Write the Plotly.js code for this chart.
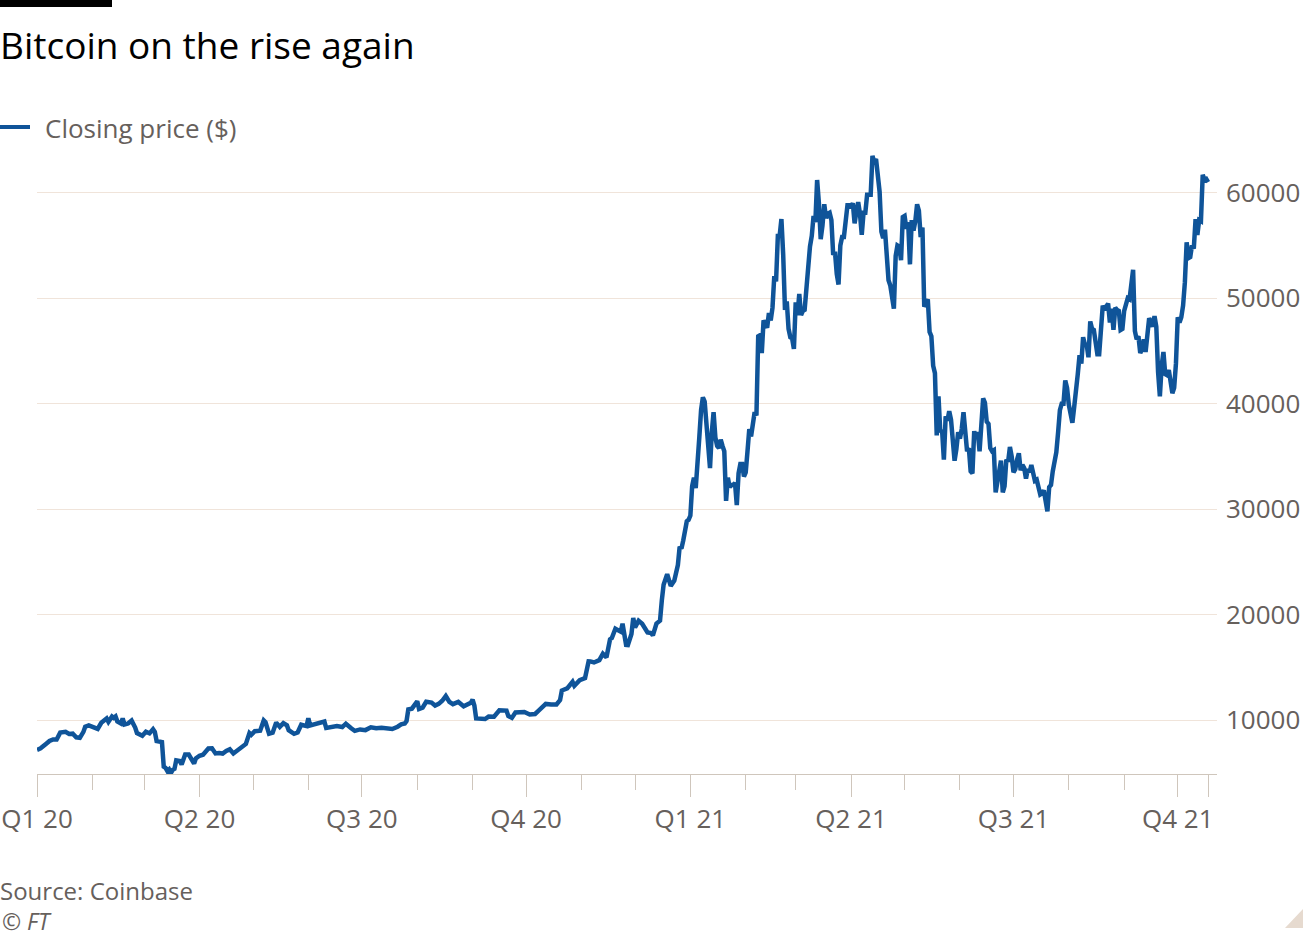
<!DOCTYPE html>
<html><head><meta charset="utf-8">
<script src="https://cdn.plot.ly/plotly-3.0.1.min.js"></script>
<style>html,body{margin:0;padding:0;background:#fff;} #chart{width:1312px;height:937px;}</style>
</head><body><div id="chart"></div>
<script>
const dates2020 = ['2020-01-01','2020-01-03','2020-01-06','2020-01-08','2020-01-10','2020-01-12','2020-01-14','2020-01-17','2020-01-19','2020-01-21','2020-01-23','2020-01-25','2020-01-27','2020-01-28','2020-01-30',
'2020-02-01','2020-02-03','2020-02-04','2020-02-06','2020-02-09','2020-02-10','2020-02-12','2020-02-13','2020-02-14','2020-02-15','2020-02-17','2020-02-18','2020-02-19','2020-02-21','2020-02-23','2020-02-25','2020-02-26','2020-02-29',
'2020-03-02','2020-03-04','2020-03-06','2020-03-07','2020-03-08','2020-03-11','2020-03-12','2020-03-13','2020-03-14','2020-03-15','2020-03-16','2020-03-17','2020-03-18','2020-03-19','2020-03-21','2020-03-22','2020-03-24','2020-03-26','2020-03-28','2020-03-29','2020-03-30',
'2020-04-01','2020-04-03','2020-04-06','2020-04-08','2020-04-10','2020-04-12','2020-04-14','2020-04-16','2020-04-18','2020-04-20','2020-04-22','2020-04-24','2020-04-27','2020-04-29','2020-04-30',
'2020-05-02','2020-05-05','2020-05-07','2020-05-08','2020-05-10','2020-05-12','2020-05-14','2020-05-16','2020-05-18','2020-05-20','2020-05-21','2020-05-24','2020-05-26','2020-05-28','2020-05-31',
'2020-06-01','2020-06-02','2020-06-05','2020-06-08','2020-06-10','2020-06-11','2020-06-14','2020-06-17','2020-06-20','2020-06-22','2020-06-25','2020-06-27','2020-06-30',
'2020-07-03','2020-07-06','2020-07-09','2020-07-12','2020-07-15','2020-07-18','2020-07-21','2020-07-23','2020-07-25','2020-07-26','2020-07-27','2020-07-29',
'2020-08-01','2020-08-02','2020-08-04','2020-08-06','2020-08-09','2020-08-11','2020-08-13','2020-08-15','2020-08-17','2020-08-19','2020-08-21','2020-08-24','2020-08-27','2020-08-29','2020-08-31',
'2020-09-01','2020-09-02','2020-09-03','2020-09-05','2020-09-08','2020-09-10','2020-09-13','2020-09-16','2020-09-18','2020-09-20','2020-09-21','2020-09-23','2020-09-25','2020-09-27','2020-09-30',
'2020-10-03','2020-10-06','2020-10-08','2020-10-10','2020-10-12','2020-10-15','2020-10-18','2020-10-20','2020-10-21','2020-10-24','2020-10-27','2020-10-28','2020-10-31',
'2020-11-03','2020-11-05','2020-11-06','2020-11-08','2020-11-11','2020-11-13','2020-11-15','2020-11-17','2020-11-18','2020-11-20','2020-11-23','2020-11-24','2020-11-26','2020-11-27','2020-11-29','2020-11-30',
'2020-12-01','2020-12-03','2020-12-05','2020-12-08','2020-12-10','2020-12-11','2020-12-13','2020-12-15','2020-12-16','2020-12-17','2020-12-19','2020-12-21','2020-12-23','2020-12-25','2020-12-26','2020-12-27','2020-12-28','2020-12-30','2020-12-31'];
const close2020 = [7200,7345,7760,8045,8190,8180,8830,8910,8700,8730,8390,8340,8900,9390,9510,
9380,9290,9180,9760,10170,9850,10360,10230,10360,9900,9700,10180,9600,9690,9970,9310,8790,8530,
8910,8760,9150,8900,8040,7940,5600,5500,5200,5350,5000,5300,5400,6200,6150,5800,6750,6750,6200,5900,6400,
6640,6740,7330,7350,6860,6900,6850,7100,7250,6860,7120,7500,7760,8790,8620,
8970,9020,9980,9810,8730,8820,9780,9380,9730,9520,9060,8720,8840,9580,9450,
10200,9520,9620,9770,9880,9270,9330,9450,9360,9680,9240,9000,9135,
9070,9340,9240,9290,9190,9170,9390,9610,9700,9930,11030,11100,
11800,11070,11200,11760,11680,11400,11560,11850,12300,11750,11530,11740,11330,11530,11660,
11950,11400,10180,10130,10120,10350,10340,10940,10930,10920,10420,10230,10740,10780,10780,
10550,10600,10910,11300,11550,11500,11500,11920,12820,13030,13650,13270,13800,
14000,15590,15580,15480,15700,16310,15970,17680,17800,18680,18400,19150,17150,17130,18180,19700,
18790,19440,19150,18320,18260,18040,19170,19440,21360,22840,23850,22740,23240,24710,26440,26270,27040,28860,29000];

const dates2021 = [
'2021-01-01','2021-01-02','2021-01-03','2021-01-04','2021-01-05','2021-01-06','2021-01-07','2021-01-08','2021-01-09','2021-01-10','2021-01-11','2021-01-12','2021-01-13','2021-01-14','2021-01-15','2021-01-16','2021-01-17','2021-01-18','2021-01-19','2021-01-20','2021-01-21','2021-01-22','2021-01-23','2021-01-24','2021-01-25','2021-01-26','2021-01-27','2021-01-28','2021-01-29','2021-01-30','2021-01-31',
'2021-02-01','2021-02-02','2021-02-03','2021-02-04','2021-02-05','2021-02-06','2021-02-07','2021-02-08','2021-02-09','2021-02-10','2021-02-11','2021-02-12','2021-02-13','2021-02-14','2021-02-15','2021-02-16','2021-02-17','2021-02-18','2021-02-19','2021-02-20','2021-02-21','2021-02-22','2021-02-23','2021-02-24','2021-02-25','2021-02-26','2021-02-27','2021-02-28',
'2021-03-01','2021-03-02','2021-03-03','2021-03-04','2021-03-05','2021-03-06','2021-03-07','2021-03-08','2021-03-09','2021-03-10','2021-03-11','2021-03-12','2021-03-13','2021-03-14','2021-03-15','2021-03-16','2021-03-17','2021-03-18','2021-03-19','2021-03-20','2021-03-21','2021-03-22','2021-03-23','2021-03-24','2021-03-25','2021-03-26','2021-03-27','2021-03-28','2021-03-29','2021-03-30','2021-03-31',
'2021-04-01','2021-04-02','2021-04-03','2021-04-04','2021-04-05','2021-04-06','2021-04-07','2021-04-08','2021-04-09','2021-04-10','2021-04-11','2021-04-12','2021-04-13','2021-04-14','2021-04-15','2021-04-16','2021-04-17','2021-04-18','2021-04-19','2021-04-20','2021-04-21','2021-04-22','2021-04-23','2021-04-24','2021-04-25','2021-04-26','2021-04-27','2021-04-28','2021-04-29','2021-04-30',
'2021-05-01','2021-05-02','2021-05-03','2021-05-04','2021-05-05','2021-05-06','2021-05-07','2021-05-08','2021-05-09','2021-05-10','2021-05-11','2021-05-12','2021-05-13','2021-05-14','2021-05-15','2021-05-16','2021-05-17','2021-05-18','2021-05-19','2021-05-20','2021-05-21','2021-05-22','2021-05-23','2021-05-24','2021-05-25','2021-05-26','2021-05-27','2021-05-28','2021-05-29','2021-05-30','2021-05-31',
'2021-06-01','2021-06-02','2021-06-03','2021-06-04','2021-06-05','2021-06-06','2021-06-07','2021-06-08','2021-06-09','2021-06-10','2021-06-11','2021-06-12','2021-06-13','2021-06-14','2021-06-15','2021-06-16','2021-06-17','2021-06-18','2021-06-19','2021-06-20','2021-06-21','2021-06-22','2021-06-23','2021-06-24','2021-06-25','2021-06-26','2021-06-27','2021-06-28','2021-06-29','2021-06-30',
'2021-07-01','2021-07-02','2021-07-03','2021-07-04','2021-07-05','2021-07-06','2021-07-07','2021-07-08','2021-07-09','2021-07-10','2021-07-11','2021-07-12','2021-07-13','2021-07-14','2021-07-15','2021-07-16','2021-07-17','2021-07-18','2021-07-19','2021-07-20','2021-07-21','2021-07-22','2021-07-23','2021-07-24','2021-07-25','2021-07-26','2021-07-27','2021-07-28','2021-07-29','2021-07-30','2021-07-31',
'2021-08-01','2021-08-02','2021-08-03','2021-08-04','2021-08-05','2021-08-06','2021-08-07','2021-08-08','2021-08-09','2021-08-10','2021-08-11','2021-08-12','2021-08-13','2021-08-14','2021-08-15','2021-08-16','2021-08-17','2021-08-18','2021-08-19','2021-08-20','2021-08-21','2021-08-22','2021-08-23','2021-08-24','2021-08-25','2021-08-26','2021-08-27','2021-08-28','2021-08-29','2021-08-30','2021-08-31',
'2021-09-01','2021-09-02','2021-09-03','2021-09-04','2021-09-05','2021-09-06','2021-09-07','2021-09-08','2021-09-09','2021-09-10','2021-09-11','2021-09-12','2021-09-13','2021-09-14','2021-09-15','2021-09-16','2021-09-17','2021-09-18','2021-09-19','2021-09-20','2021-09-21','2021-09-22','2021-09-23','2021-09-24','2021-09-25','2021-09-26','2021-09-27','2021-09-28','2021-09-29','2021-09-30',
'2021-10-01','2021-10-02','2021-10-03','2021-10-04','2021-10-05','2021-10-06','2021-10-07','2021-10-08','2021-10-09','2021-10-10','2021-10-11','2021-10-12','2021-10-13','2021-10-14','2021-10-15','2021-10-16','2021-10-17','2021-10-18'];
const close2021 = [
29400,32200,33000,32000,34000,36800,39400,40600,40200,38200,35500,33900,37300,39200,36800,36000,35800,36600,36000,35500,30800,33000,32100,32300,32300,32500,30400,33400,34300,34300,33100,
33500,35500,37600,36900,38300,39200,38900,46400,46500,44800,47900,47400,47200,48600,47900,49100,52100,51600,55900,55900,57500,54100,48900,49700,47100,46300,46200,45200,
49600,48400,50400,48400,48800,48900,51000,52400,54900,55900,57800,57200,61200,59000,55600,56900,58900,57600,58000,58100,57400,54100,54400,52300,51300,55000,55800,55800,57600,58800,58800,
58700,59000,57100,58200,59100,58000,56000,58100,58100,59800,59800,59800,63500,62900,63200,61400,60100,56300,55700,56500,53800,51700,51200,50100,49000,54000,55000,54900,53600,57700,
57800,56600,57200,53200,57400,56400,57300,58900,58300,55800,56700,49200,49700,49900,46800,46400,43600,42900,37000,40700,37300,37500,34700,38800,38400,39300,38500,35700,34600,35700,37300,
36700,37600,39200,36900,35500,35800,33600,33400,37400,36700,37300,35500,39000,40500,40100,38300,38100,35800,35500,35600,31600,32500,33700,34600,31600,32200,34700,34500,35900,35000,
33500,33800,34700,35300,33700,34200,33900,32900,33800,33500,34200,33100,32700,32800,31800,31400,31500,31800,30800,29800,32100,32300,33600,34300,35400,37300,39400,40000,40000,42200,41500,
39900,39200,38200,39700,40900,42800,44600,43800,46300,45600,45600,44400,47800,47100,47000,45900,44700,44700,46800,49300,48900,49300,49500,47700,49000,47000,49100,48900,48800,47000,47100,
48800,49300,50000,49900,51800,52700,46900,46100,46400,44800,45200,46100,44900,47100,48100,47800,47300,48300,47300,43000,40700,43600,44900,42800,42700,43200,42200,41000,41500,43800,
48200,47700,48200,49300,51500,55300,53800,53900,55000,54700,57500,56000,57400,57300,61700,61200,61300,61000];

const quarterTicks = ['2020-01-01','2020-04-01','2020-07-01','2020-10-01','2021-01-01','2021-04-01','2021-07-01','2021-10-01','2021-10-18'];
const quarterLabels = ['Q1 20','Q2 20','Q3 20','Q4 20','Q1 21','Q2 21','Q3 21','Q4 21',''];
const yTicks = [10000,20000,30000,40000,50000,60000];
const seriesName = 'Closing price ($)';
const chartTitle = 'Bitcoin on the rise again';
const sourceText = 'Source: Coinbase';
const creditText = '<i>© FT</i>';

const W = 1312, H = 937, L = 37, R = 1217, T = 150, B = 774;
const px = x => (x - L) / (R - L);
const py = y => (B - y) / (B - T);
const FONT = '"Open Sans", sans-serif';
const GREY = '#66605c';
const AXIS = '#cfc6bc';
const BLUE = '#0f5499';

const trace = {
  type: 'scatter', mode: 'lines',
  x: dates2020.concat(dates2021),
  y: close2020.concat(close2021),
  name: seriesName,
  line: {color: BLUE, width: 4.5, shape: 'linear'},
  hoverinfo: 'skip', showlegend: false
};

const layout = {
  width: W, height: H,
  margin: {l: L, r: W - R, t: T, b: H - B, pad: 0},
  paper_bgcolor: '#ffffff', plot_bgcolor: '#ffffff',
  font: {family: FONT, color: GREY},
  title: {
    text: chartTitle, xref: 'container', yref: 'container',
    x: 0, xanchor: 'left', y: 1 - 46 / H, yanchor: 'middle',
    font: {family: FONT, size: 37, color: '#000000'}
  },
  showlegend: false,
  xaxis: {
    type: 'date', range: ['2020-01-01', '2021-10-23'], fixedrange: true,
    tickmode: 'array', tickvals: quarterTicks, ticktext: quarterLabels,
    ticks: 'outside', ticklen: 22, tickwidth: 1, tickcolor: AXIS,
    showline: true, linecolor: AXIS, linewidth: 1,
    showgrid: false, zeroline: false,
    tickfont: {family: FONT, size: 26, color: GREY},
    minor: {dtick: 'M1', tick0: '2020-01-01', ticks: 'outside', ticklen: 15, tickwidth: 1, tickcolor: AXIS, showgrid: false}
  },
  yaxis: {
    side: 'right', range: [4911, 64047], fixedrange: true,
    tickmode: 'array', tickvals: yTicks, tickformat: 'd',
    ticks: '', showline: false, zeroline: false,
    showgrid: true, gridcolor: '#f0e4da', gridwidth: 1,
    tickfont: {family: FONT, size: 26, color: GREY},
    ticklabelstandoff: 8
  },
  shapes: [
    {type: 'rect', xref: 'paper', yref: 'paper', x0: px(0), x1: px(112), y0: py(7), y1: py(0), fillcolor: '#000000', line: {width: 0}},
    {type: 'line', xref: 'paper', yref: 'paper', x0: px(0), x1: px(30), y0: py(127), y1: py(127), line: {color: BLUE, width: 4}},
    {type: 'path', xref: 'paper', yref: 'paper',
     path: `M ${px(1285)} ${py(928)} L ${px(1303)} ${py(928)} L ${px(1303)} ${py(909)} Z`,
     fillcolor: '#e6dacf', line: {width: 0}}
  ],
  annotations: [
    {xref: 'paper', yref: 'paper', x: px(45), y: py(128), xanchor: 'left', yanchor: 'middle', showarrow: false,
     text: seriesName, borderpad: 0, borderwidth: 0, font: {family: FONT, size: 26, color: GREY}},
    {xref: 'paper', yref: 'paper', x: px(0), y: py(890), xanchor: 'left', yanchor: 'middle', showarrow: false,
     text: sourceText, borderpad: 0, borderwidth: 0, font: {family: FONT, size: 24, color: GREY}},
    {xref: 'paper', yref: 'paper', x: px(2), y: py(921), xanchor: 'left', yanchor: 'middle', showarrow: false,
     text: creditText, borderpad: 0, borderwidth: 0, font: {family: FONT, size: 23, color: GREY}}
  ]
};

Plotly.newPlot('chart', [trace], layout, {displayModeBar: false, staticPlot: true});
</script>
</body></html>
